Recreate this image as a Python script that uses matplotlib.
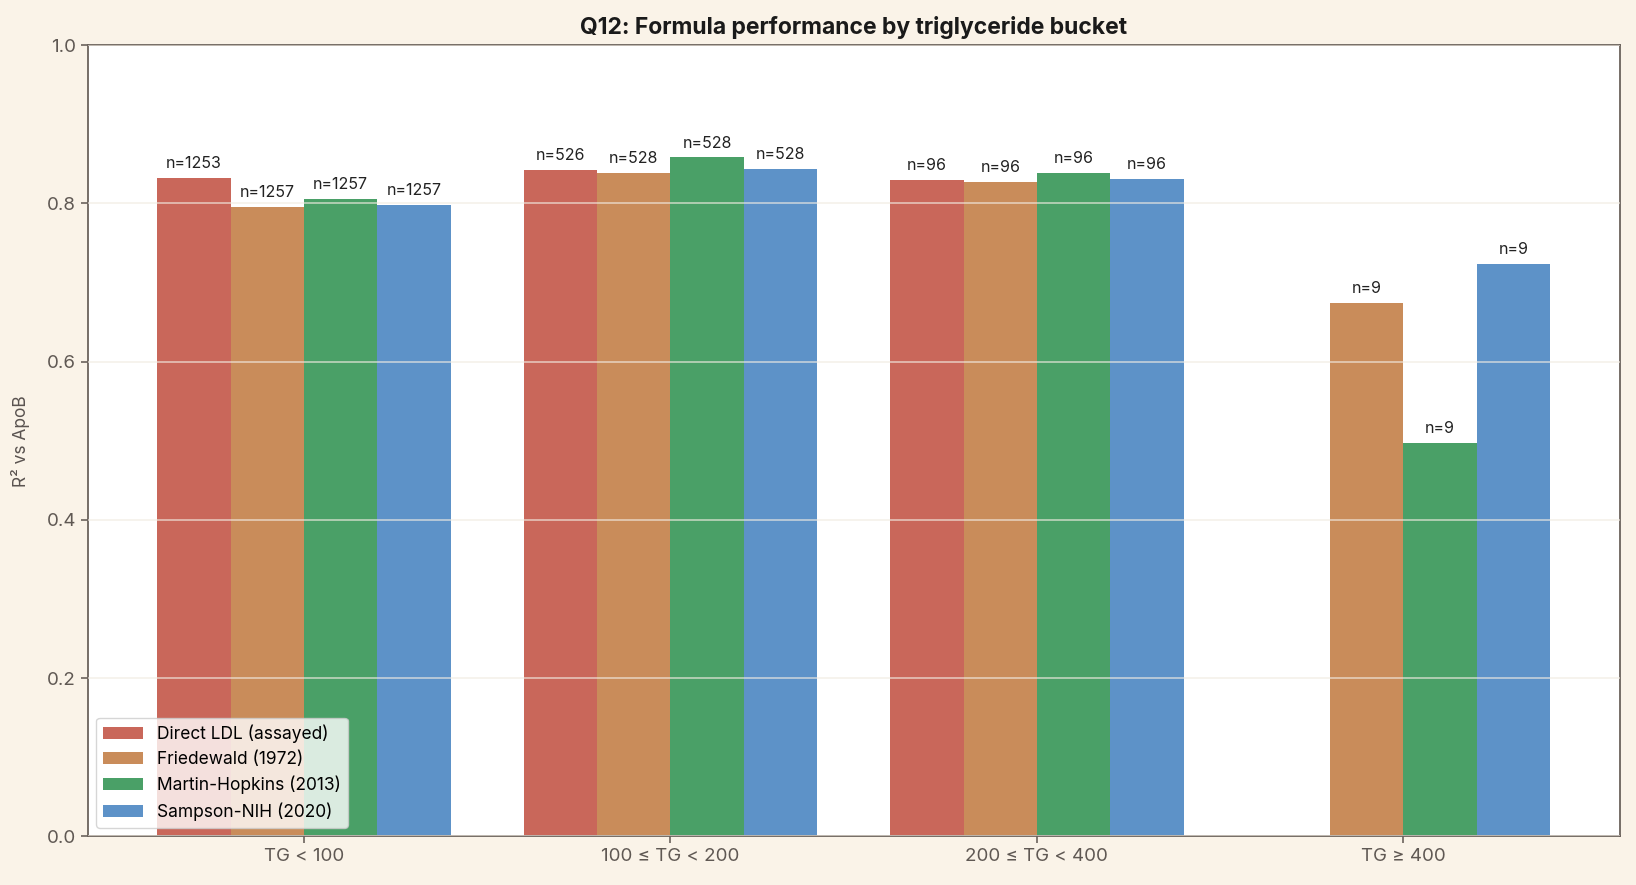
import numpy as np
import matplotlib
matplotlib.use("Agg")
import matplotlib.pyplot as plt

plt.rcParams['font.family'] = ['Inter', 'DejaVu Sans']

buckets = ['TG < 100', '100 ≤ TG < 200', '200 ≤ TG < 400', 'TG ≥ 400']
methods = ['Direct LDL (assayed)', 'Friedewald (1972)', 'Martin-Hopkins (2013)', 'Sampson-NIH (2020)']
colors = ['#c9675a', '#c98c5a', '#4aa067', '#5d92c8']

# R^2 vs ApoB per method, per bucket (nan = not available)
r2_direct = [0.832, 0.842, 0.830, np.nan]
r2_friedewald = [0.796, 0.838, 0.827, 0.674]
r2_martin = [0.806, 0.858, 0.839, 0.497]
r2_sampson = [0.798, 0.843, 0.831, 0.724]

n_direct = [1253, 526, 96, None]
n_friedewald = [1257, 528, 96, 9]
n_martin = [1257, 528, 96, 9]
n_sampson = [1257, 528, 96, 9]

values = [r2_direct, r2_friedewald, r2_martin, r2_sampson]
counts = [n_direct, n_friedewald, n_martin, n_sampson]

fig, ax = plt.subplots(figsize=(16.36, 8.85), dpi=100)
fig.patch.set_facecolor('#faf3e8')
ax.set_facecolor('white')

x = np.arange(len(buckets))
width = 0.2
for i, (vals, ns) in enumerate(zip(values, counts)):
    pos = x + (i - 1.5) * width
    ax.bar(pos, vals, width, color=colors[i], label=methods[i], zorder=2)
    for p, v, n in zip(pos, vals, ns):
        if n is None or np.isnan(v):
            continue
        ax.annotate(f'n={n}', (p, v), xytext=(0, 5), textcoords='offset points',
                    ha='center', va='bottom', fontsize=11.5, color='#222222')

ax.set_ylim(0, 1.0)
ax.set_xticks(x)
ax.set_xticklabels(buckets)
ax.set_ylabel('R² vs ApoB', fontsize=12.5, color='#5a5350', labelpad=12)
ax.set_title('Q12: Formula performance by triglyceride bucket', fontsize=16.5,
             fontweight='bold', color='#1a1a1a', pad=8)

ax.yaxis.grid(True, color='#f1ebe2', linewidth=1.2, alpha=0.7, zorder=3)
ax.set_axisbelow(False)
ax.tick_params(colors='#6b625c', labelsize=13.5, length=5, width=1.2)
for lbl in ax.get_xticklabels() + ax.get_yticklabels():
    lbl.set_color('#5f5853')
for s in ax.spines.values():
    s.set_color('#6b625c')
    s.set_linewidth(1.3)

leg = ax.legend(loc='lower left', fontsize=12.5, framealpha=0.8, edgecolor='#cccccc',
                labelspacing=0.45, handlelength=2.3)

plt.subplots_adjust(left=0.0536, right=0.99, top=0.949, bottom=0.055)
plt.savefig('out.png', facecolor=fig.get_facecolor())
